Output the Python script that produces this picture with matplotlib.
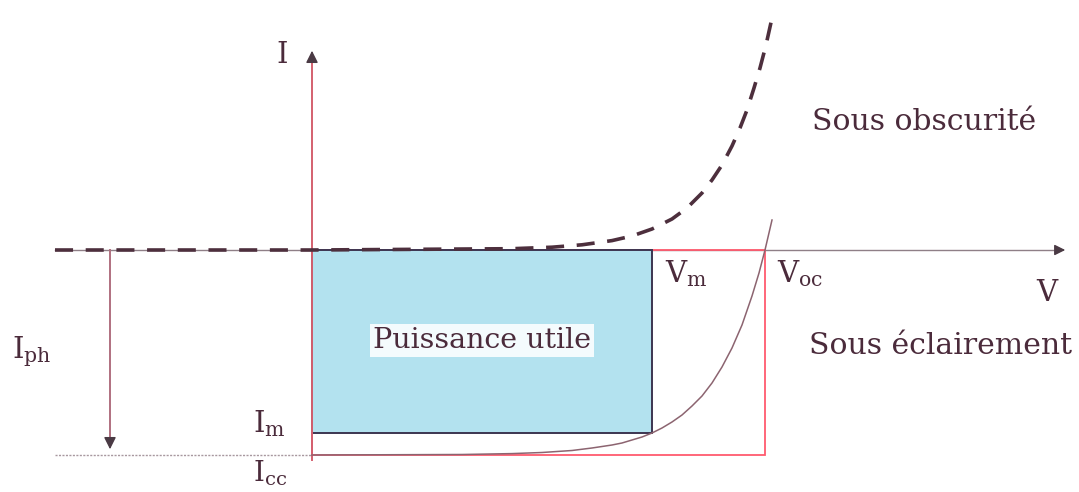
"""Caractéristique I(V) d'une cellule photovoltaïque : obscurité / éclairement."""

import matplotlib

matplotlib.use("Agg")
import matplotlib.pyplot as plt  # noqa: E402
from matplotlib.patches import Rectangle  # noqa: E402

# Points caractéristiques (unités arbitraires du schéma)
V_M = 340
V_OC = 453
I_M = -183
I_CC = -205
V_LEFT = -257  # début des traits horizontaux à gauche
V_END = 756  # pointe de la flèche V
I_TOP = 202  # pointe de la flèche I
I_BOTTOM = -210
V_IPH = -202  # abscisse de la flèche I_ph

# Courbe sous obscurité (relevée point par point)
dark_v = [V_LEFT, 0, 200, 240, 270, 300, 320, 340, 360, 375, 390, 400, 410, 420,
          428, 435, 442, 448, 454, 460]
dark_i = [0, 0, 1.3, 2.8, 5.2, 9.4, 14, 21, 31, 42, 57, 70, 85, 104,
          122, 140, 162, 182, 205, 232]

# Courbe sous éclairement
light_v = [0, 150, 200, 230, 260, 280, 300, 310, 320, 330, 340, 350, 360, 370, 380,
           390, 400, 410, 420, 430, 440, 447, 453, 460]
light_i = [-205, -204.5, -203.6, -202.5, -200.5, -198, -195, -193, -190, -187, -183,
           -178, -172, -165, -156, -146, -133, -117, -98, -75, -46, -23, 0, 30]

TEXT = "#4b2b3b"
plt.rcParams["font.family"] = "DejaVu Serif"
plt.rcParams["mathtext.fontset"] = "dejavuserif"

fig = plt.figure(figsize=(10.79, 4.92), dpi=100)
ax = fig.add_axes([0, 0, 1, 1])
ax.set_xlim(-312, 767)
ax.set_ylim(-242, 250)
ax.axis("off")

# axe V
ax.plot([V_LEFT, V_END - 10], [0, 0], color="#8f7f87", lw=1.0, zorder=1)
ax.annotate("", xy=(V_END, 0), xytext=(V_END - 14, 0),
            arrowprops=dict(arrowstyle="-|>", color="#4a3a44", lw=1, mutation_scale=16), zorder=2)

# ligne I_cc
ax.plot([V_LEFT, 0], [I_CC, I_CC], color="#a8989f", lw=1.0, ls=(0, (1.5, 1)), zorder=1)

# rectangle V_oc x I_cc
ax.add_patch(Rectangle((0, I_CC), V_OC, -I_CC, fill=False, edgecolor="#ff5a6e", lw=1.3, zorder=2))

# puissance utile V_m x I_m
ax.add_patch(Rectangle((0, I_M), V_M, -I_M, facecolor="#b3e2ef", edgecolor="#3c3550", lw=1.4, zorder=3))
ax.text(170, -98, "Puissance utile", ha="center", va="baseline", fontsize=20.5, color=TEXT,
        bbox=dict(facecolor="#f4fbfd", edgecolor="none", pad=2), zorder=6)

# axe I
ax.plot([0, 0], [I_BOTTOM, I_TOP - 8], color="#d4606f", lw=1.4, zorder=4)
ax.annotate("", xy=(0, I_TOP), xytext=(0, I_TOP - 12),
            arrowprops=dict(arrowstyle="-|>", color="#4a3a44", lw=1, mutation_scale=18), zorder=5)

# flèche I_ph
ax.plot([V_IPH, V_IPH], [0, I_CC + 10], color="#b07080", lw=1.4, zorder=4)
ax.annotate("", xy=(V_IPH, I_CC + 3), xytext=(V_IPH, I_CC + 15),
            arrowprops=dict(arrowstyle="-|>", color="#4a3a44", lw=1, mutation_scale=18), zorder=5)

# courbes
ax.plot(light_v, light_i, color="#8c6470", lw=1.1, zorder=5)
ax.plot(dark_v, dark_i, color="#4d2f3d", lw=2.6, ls=(0, (5, 3.5)), zorder=5)

# étiquettes
ax.text(-30, 195, "I", ha="center", va="center", fontsize=21, color=TEXT)
ax.text(735, -43, "V", ha="center", va="center", fontsize=21, color=TEXT)
ax.text(353, -32, r"$\mathrm{V_{m}}$", ha="left", va="baseline", fontsize=21, color=TEXT)
ax.text(465, -32, r"$\mathrm{V_{oc}}$", ha="left", va="baseline", fontsize=21, color=TEXT)
ax.text(500, 120, "Sous obscurité", ha="left", va="baseline", fontsize=21.5, color=TEXT)
ax.text(497, -104, "Sous éclairement", ha="left", va="baseline", fontsize=21.5, color=TEXT)
ax.text(-300, -108, r"$\mathrm{I_{ph}}$", ha="left", va="baseline", fontsize=21, color=TEXT)
ax.text(-59, -182, r"$\mathrm{I_{m}}$", ha="left", va="baseline", fontsize=21, color=TEXT)
ax.text(-59, -231, r"$\mathrm{I_{cc}}$", ha="left", va="baseline", fontsize=20, color=TEXT)

fig.savefig("out.png", dpi=100)
